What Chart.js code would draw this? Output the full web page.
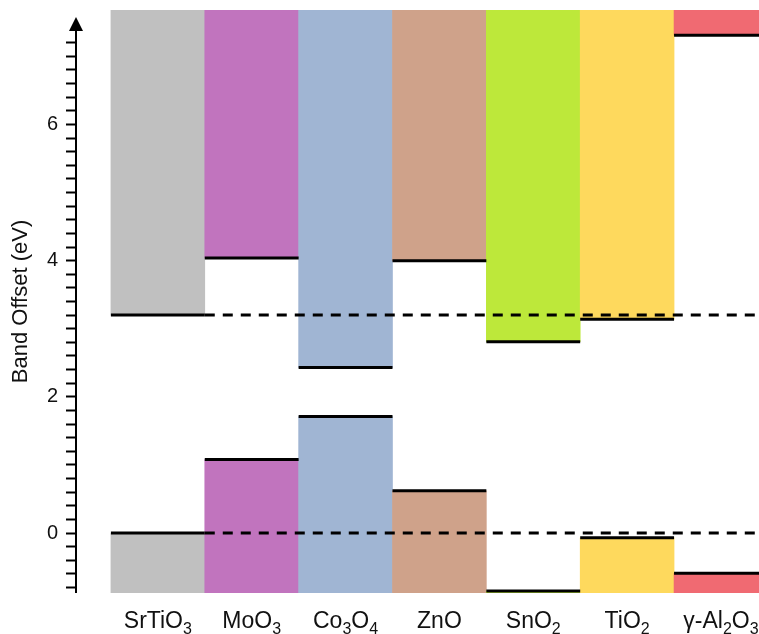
<!DOCTYPE html>
<html>
<head>
<meta charset="utf-8">
<title>Band Offset</title>
<script src="https://cdn.jsdelivr.net/npm/chart.js@4/dist/chart.umd.min.js"></script>
<style>
  html, body { margin: 0; padding: 0; background: #fff; }
  #wrap { width: 759px; height: 634px; }
</style>
</head>
<body>
<div id="wrap"><canvas id="grafica"></canvas></div>
<script>
// materiales y niveles de banda (eV)
const materiales = ['SrTiO₃', 'MoO₃', 'Co₃O₄', 'ZnO', 'SnO₂', 'TiO₂', 'γ-Al₂O₃'];
const bandaValencia = [0, 1.08, 1.71, 0.62, -0.85, -0.07, -0.59];
const bandaConduccion = [3.2, 4.04, 2.43, 4.0, 2.81, 3.14, 7.31];
const nivelesReferencia = [0, 3.2];
const colores = ['#c0c0c0', '#c174be', '#a0b5d3', '#cfa28a', '#bde83a', '#fed95d', '#f06a72'];

const yMin = -0.88;
const yMax = 7.68;
const yTickMax = 7.2;
const xMin = -0.372;
const xMax = 6.905;

const fuente = "'Liberation Sans', Arial, sans-serif";

// barras flotantes: valencia desde abajo, conduccion hasta arriba
const barrasValencia = materiales.map((m, i) => ({ x: i + 0.5, y: [yMin, bandaValencia[i]] }));
const barrasConduccion = materiales.map((m, i) => ({ x: i + 0.5, y: [bandaConduccion[i], yMax] }));

// bordes negros de cada banda, separados con null
const bordes = [];
materiales.forEach((m, i) => {
  bordes.push({ x: i, y: bandaValencia[i] }, { x: i + 1, y: bandaValencia[i] }, { x: i + 1, y: null });
  bordes.push({ x: i, y: bandaConduccion[i] }, { x: i + 1, y: bandaConduccion[i] }, { x: i + 1, y: null });
});

const lineasReferencia = nivelesReferencia.map(v => ({
  type: 'line',
  data: [{ x: 1, y: v }, { x: xMax, y: v }],
  borderColor: '#000',
  borderWidth: 3,
  borderDash: [10, 8],
  pointRadius: 0,
  fill: false,
  order: 0
}));

// eje Y con flecha
const flechaEje = {
  id: 'flechaEje',
  afterDraw(chart) {
    const { ctx, chartArea } = chart;
    const x = chart.scales.y.right;
    const punta = chartArea.top + 7;
    const base = chartArea.top + 21;
    ctx.save();
    ctx.strokeStyle = '#000';
    ctx.lineWidth = 2;
    ctx.beginPath();
    ctx.moveTo(x, chartArea.bottom);
    ctx.lineTo(x, base);
    ctx.stroke();
    ctx.fillStyle = '#000';
    ctx.beginPath();
    ctx.moveTo(x, punta);
    ctx.lineTo(x - 7, base);
    ctx.lineTo(x + 7, base);
    ctx.closePath();
    ctx.fill();
    ctx.restore();
  }
};

// etiquetas del eje X con subindices reales
const subindices = '₀₁₂₃₄₅₆₇₈₉';
const etiquetasX = {
  id: 'etiquetasX',
  afterDraw(chart) {
    const { ctx, chartArea } = chart;
    const escala = chart.scales.x;
    const base = chartArea.bottom + 35;
    const fNormal = '23px ' + fuente;
    const fSub = '16px ' + fuente;
    ctx.save();
    ctx.fillStyle = '#111';
    ctx.textBaseline = 'alphabetic';
    ctx.textAlign = 'left';
    materiales.forEach((nombre, i) => {
      const trozos = [];
      for (const c of nombre) {
        const k = subindices.indexOf(c);
        const sub = k >= 0;
        const txt = sub ? String(k) : c;
        const ult = trozos[trozos.length - 1];
        if (ult && ult.sub === sub) ult.txt += txt;
        else trozos.push({ txt, sub });
      }
      let ancho = 0;
      trozos.forEach(t => {
        ctx.font = t.sub ? fSub : fNormal;
        t.w = ctx.measureText(t.txt).width;
        ancho += t.w;
      });
      let x = Math.min(escala.getPixelForValue(i + 0.5) - ancho / 2, chart.width - ancho);
      trozos.forEach(t => {
        ctx.font = t.sub ? fSub : fNormal;
        ctx.fillText(t.txt, x, t.sub ? base + 6 : base);
        x += t.w;
      });
    });
    ctx.restore();
  }
};

new Chart(document.getElementById('grafica'), {
  type: 'bar',
  data: {
    datasets: [
      {
        data: barrasValencia,
        backgroundColor: colores,
        grouped: false,
        barPercentage: 1,
        categoryPercentage: 1,
        order: 2
      },
      {
        data: barrasConduccion,
        backgroundColor: colores,
        grouped: false,
        barPercentage: 1,
        categoryPercentage: 1,
        order: 2
      },
      {
        type: 'line',
        data: bordes,
        borderColor: '#000',
        borderWidth: 3,
        pointRadius: 0,
        spanGaps: false,
        fill: false,
        order: 1
      },
      ...lineasReferencia
    ]
  },
  options: {
    responsive: true,
    maintainAspectRatio: false,
    animation: false,
    layout: { padding: { top: 10, right: 0, left: 0, bottom: 0 } },
    plugins: {
      legend: { display: false },
      tooltip: { enabled: false }
    },
    scales: {
      x: {
        type: 'linear',
        min: xMin,
        max: xMax,
        offset: false,
        border: { display: false },
        grid: { display: false, drawTicks: false, offset: false },
        ticks: { display: false },
        afterBuildTicks: axis => {
          axis.ticks = materiales.map((m, i) => ({ value: i + 0.5 }));
        },
        afterFit: axis => {
          axis.height = 41;
          axis.paddingLeft = 0;
          axis.paddingRight = 0;
        }
      },
      y: {
        min: yMin,
        max: yMax,
        border: { display: false },
        grid: {
          drawOnChartArea: false,
          drawTicks: true,
          tickLength: 10,
          tickWidth: 2,
          tickColor: '#000'
        },
        afterBuildTicks: axis => {
          axis.ticks = axis.ticks.filter(t => t.value <= yTickMax + 1e-6);
        },
        afterFit: axis => {
          axis.width = 76;
          axis.paddingTop = 0;
          axis.paddingBottom = 0;
        },
        ticks: {
          stepSize: 0.2,
          includeBounds: false,
          autoSkip: false,
          padding: 8,
          color: '#111',
          font: { family: fuente, size: 20 },
          callback: v => {
            const n = Math.round(v * 5);
            return n % 10 === 0 ? String(n / 5) : '';
          }
        },
        title: {
          display: true,
          text: 'Band Offset (eV)',
          color: '#111',
          padding: { top: 8 },
          font: { family: fuente, size: 22 }
        }
      }
    }
  },
  plugins: [flechaEje, etiquetasX]
});
</script>
</body>
</html>
